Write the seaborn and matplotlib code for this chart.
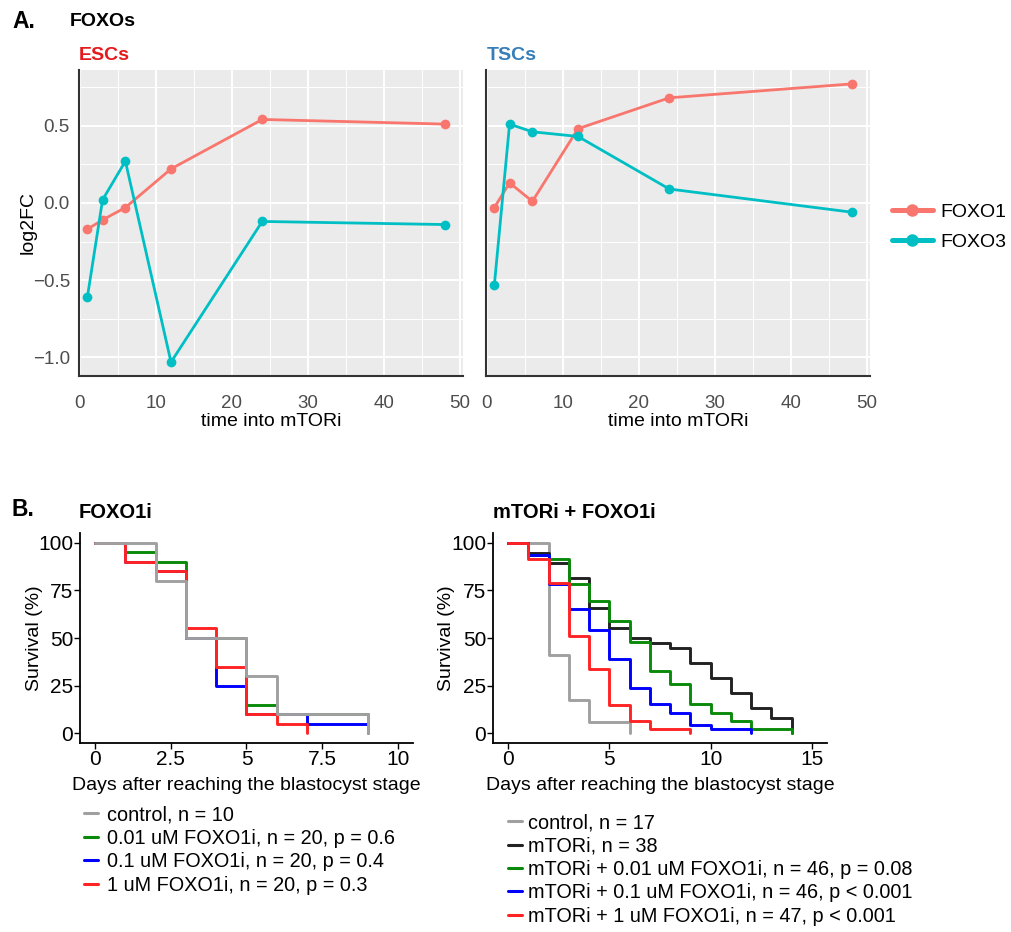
import matplotlib
matplotlib.use("Agg")
import matplotlib.pyplot as plt
from matplotlib.lines import Line2D
from matplotlib.ticker import MultipleLocator
import seaborn as sns
import pandas as pd

# ---- panel A data (log2FC vs hours into mTORi) ----
hours = [1, 3, 6, 12, 24, 48]
esc_foxo1 = [-0.17, -0.11, -0.03, 0.22, 0.54, 0.51]
esc_foxo3 = [-0.61, 0.02, 0.27, -1.03, -0.12, -0.14]
tsc_foxo1 = [-0.03, 0.13, 0.01, 0.48, 0.68, 0.77]
tsc_foxo3 = [-0.53, 0.51, 0.46, 0.43, 0.09, -0.06]

# ---- panel B data (Kaplan-Meier steps: day, survival %) ----
b1_ctrl_t = [0, 2, 3, 5, 6, 9]
b1_ctrl_s = [100, 80, 50, 30, 10, 0]
b1_low_t = [0, 1, 2, 3, 5, 6, 9]
b1_low_s = [100, 95, 90, 50, 15, 10, 0]
b1_mid_t = [0, 1, 2, 3, 4, 5, 7, 9]
b1_mid_s = [100, 90, 85, 50, 25, 10, 5, 5]
b1_high_t = [0, 1, 2, 3, 4, 5, 6, 7]
b1_high_s = [100, 90, 85, 55, 35, 10, 5, 0]

b2_ctrl_t = [0, 2, 3, 4, 6]
b2_ctrl_s = [100, 41.2, 17.6, 5.9, 0]
b2_mtor_t = [0, 1, 2, 3, 4, 5, 6, 7, 8, 9, 10, 11, 12, 13, 14]
b2_mtor_s = [100, 94.7, 89.5, 81.6, 65.8, 55.3, 50.0, 47.4, 44.7, 36.8, 28.9, 21.1, 13.2, 7.9, 0]
b2_low_t = [0, 1, 2, 3, 4, 5, 6, 7, 8, 9, 10, 11, 12, 14]
b2_low_s = [100, 93.5, 91.3, 78.3, 69.6, 58.7, 47.8, 32.6, 26.1, 15.2, 10.9, 6.5, 2.2, 0]
b2_mid_t = [0, 1, 2, 3, 4, 5, 6, 7, 8, 9, 10, 12]
b2_mid_s = [100, 93.5, 78.3, 65.2, 54.3, 39.1, 23.9, 15.2, 10.9, 4.3, 2.2, 0]
b2_high_t = [0, 1, 2, 3, 4, 5, 6, 7, 9]
b2_high_s = [100, 91.5, 78.7, 51.1, 34.0, 14.9, 6.4, 2.1, 0]

b1_labels = ["control, n = 10", "0.01 uM FOXO1i, n = 20, p = 0.6",
             "0.1 uM FOXO1i, n = 20, p = 0.4", "1 uM FOXO1i, n = 20, p = 0.3"]
b2_labels = ["control, n = 17", "mTORi, n = 38", "mTORi + 0.01 uM FOXO1i, n = 46, p = 0.08",
             "mTORi + 0.1 uM FOXO1i, n = 46, p < 0.001", "mTORi + 1 uM FOXO1i, n = 47, p < 0.001"]

C_GRAY, C_BLACK, C_GREEN, C_BLUE, C_RED = "#a0a0a0", "#222222", "#0a8a0a", "#0000ff", "#ff2424"
C_F1, C_F3 = "#F8766D", "#00BFC4"

sns.set_theme(style="white")
plt.rcParams["font.family"] = ["Liberation Sans", "DejaVu Sans"]
plt.rcParams["text.color"] = "black"
plt.rcParams["axes.labelcolor"] = "black"

W, H = 1012, 932
fig = plt.figure(figsize=(W / 100, H / 100), dpi=100)


def box(x0, y0, x1, y1):
    return [x0 / W, 1 - y1 / H, (x1 - x0) / W, (y1 - y0) / H]


def ftext(x, y, s, **kw):
    fig.text(x / W, 1 - y / H, s, va="center", **kw)


# ---------------- panel A ----------------
axA1 = fig.add_axes(box(79, 70, 463, 376))
axA2 = fig.add_axes(box(486, 70, 870, 376))

for ax, f1, f3 in [(axA1, esc_foxo1, esc_foxo3), (axA2, tsc_foxo1, tsc_foxo3)]:
    df = pd.DataFrame({"time": hours * 2, "log2FC": f1 + f3,
                       "gene": ["FOXO1"] * len(hours) + ["FOXO3"] * len(hours)})
    ax.set_facecolor("#EBEBEB")
    sns.lineplot(data=df, x="time", y="log2FC", hue="gene", palette=[C_F1, C_F3],
                 marker="o", markersize=7, markeredgewidth=0, linewidth=2,
                 legend=False, ax=ax, zorder=3)
    ax.set_xlim(-0.1, 50.4)
    ax.set_ylim(-1.12, 0.86)
    ax.xaxis.set_major_locator(MultipleLocator(10))
    ax.xaxis.set_minor_locator(MultipleLocator(5))
    ax.yaxis.set_major_locator(MultipleLocator(0.5))
    ax.yaxis.set_minor_locator(MultipleLocator(0.25))
    ax.grid(which="major", color="white", linewidth=1.4)
    ax.grid(which="minor", color="white", linewidth=0.7)
    ax.set_axisbelow(True)
    for sp in ["top", "right"]:
        ax.spines[sp].set_visible(False)
    for sp in ["left", "bottom"]:
        ax.spines[sp].set_color("#333333")
        ax.spines[sp].set_linewidth(1.5)
    ax.tick_params(which="major", length=4.5, width=1, color="#333333",
                   labelsize=13.5, labelcolor="#4D4D4D")
    ax.tick_params(axis="x", pad=9.5)
    ax.tick_params(axis="y", pad=2)
    ax.tick_params(which="minor", length=0)
    ax.set_xlabel("time into mTORi", fontsize=14, color="black", labelpad=0.5)

axA1.set_ylabel("log2FC", fontsize=14, color="black")
axA1.yaxis.set_label_coords(-0.11, 0.5)
axA2.set_ylabel("")
axA2.tick_params(axis="y", which="both", length=0, labelleft=False)

ftext(12, 21, "A.", fontsize=16.5, fontweight="bold")
ftext(70, 21, "FOXOs", fontsize=14, fontweight="bold")
ftext(79, 55, "ESCs", fontsize=14, fontweight="bold", color="#E41A1C")
ftext(487, 55, "TSCs", fontsize=14, fontweight="bold", color="#377EB8")

top_handles = [Line2D([], [], color=C_F1, lw=3.6, marker="o", ms=9, mew=0),
               Line2D([], [], color=C_F3, lw=3.6, marker="o", ms=9, mew=0)]
fig.legend(top_handles, ["FOXO1", "FOXO3"], loc="center left",
           bbox_to_anchor=(892 / W, 1 - 227 / H), frameon=False, fontsize=14,
           handlelength=2.1, handletextpad=0.4, labelspacing=0.62,
           borderpad=0, borderaxespad=0)


# ---------------- panel B ----------------
def km_panel(ax, series, order, xmax, xstep, labels, legend_colors, legend_xy, textpad, ylab_x):
    rows = []
    for name, t, s in series:
        for ti, si in zip(t, s):
            rows.append({"day": ti, "surv": si, "grp": name})
    df = pd.DataFrame(rows)
    pal = {name: col for name, col in order}
    sns.lineplot(data=df, x="day", y="surv", hue="grp", hue_order=[n for n, _ in order],
                 palette=pal, drawstyle="steps-post", linewidth=2.1, sort=False,
                 estimator=None, legend=False, ax=ax)
    ax.set_xlim(-xmax * 0.05, xmax * 1.05)
    ax.set_ylim(-5, 105)
    ax.set_yticks([0, 25, 50, 75, 100])
    ax.xaxis.set_major_locator(MultipleLocator(xstep))
    ax.xaxis.set_major_formatter(plt.FuncFormatter(lambda v, p: f"{v:g}"))
    for sp in ["top", "right"]:
        ax.spines[sp].set_visible(False)
    for sp in ["left", "bottom"]:
        ax.spines[sp].set_color("black")
        ax.spines[sp].set_linewidth(1.3)
    ax.tick_params(length=4, width=1, color="black", labelsize=15, labelcolor="black",
                   bottom=True, left=True, pad=1)
    ax.set_xlabel("Days after reaching the blastocyst stage", fontsize=14, labelpad=5.5,
                  color="black")
    ax.set_ylabel("Survival (%)", fontsize=14, color="black")
    ax.yaxis.set_label_coords(ylab_x, 0.5)
    handles = [Line2D([], [], color=c, lw=2.2) for c in legend_colors]
    fig.legend(handles, labels, loc="center left", bbox_to_anchor=legend_xy,
               frameon=False, fontsize=14.3, handlelength=0.7, handletextpad=textpad,
               labelspacing=0.22, borderpad=0, borderaxespad=0)


axB1 = fig.add_axes(box(80, 533, 413, 743))
axB2 = fig.add_axes(box(493, 533, 827, 743))

km_panel(axB1,
         [("ctrl", b1_ctrl_t, b1_ctrl_s), ("low", b1_low_t, b1_low_s),
          ("mid", b1_mid_t, b1_mid_s), ("high", b1_high_t, b1_high_s)],
         [("low", C_GREEN), ("mid", C_BLUE), ("high", C_RED), ("ctrl", C_GRAY)],
         10, 2.5, b1_labels, [C_GRAY, C_GREEN, C_BLUE, C_RED],
         (84 / W, 1 - 850 / H), 0.45, -0.11)
km_panel(axB2,
         [("ctrl", b2_ctrl_t, b2_ctrl_s), ("mtor", b2_mtor_t, b2_mtor_s),
          ("low", b2_low_t, b2_low_s), ("mid", b2_mid_t, b2_mid_s),
          ("high", b2_high_t, b2_high_s)],
         [("ctrl", C_GRAY), ("mtor", C_BLACK), ("low", C_GREEN), ("mid", C_BLUE), ("high", C_RED)],
         15, 5, b2_labels, [C_GRAY, C_BLACK, C_GREEN, C_BLUE, C_RED],
         (508 / W, 1 - 869.5 / H), 0.3, -0.114)

ftext(12, 509, "B.", fontsize=16.5, fontweight="bold")
ftext(79, 512, "FOXO1i", fontsize=14.5, fontweight="bold")
ftext(493, 512, "mTORi + FOXO1i", fontsize=14.5, fontweight="bold")

fig.savefig("out.png", dpi=100)
